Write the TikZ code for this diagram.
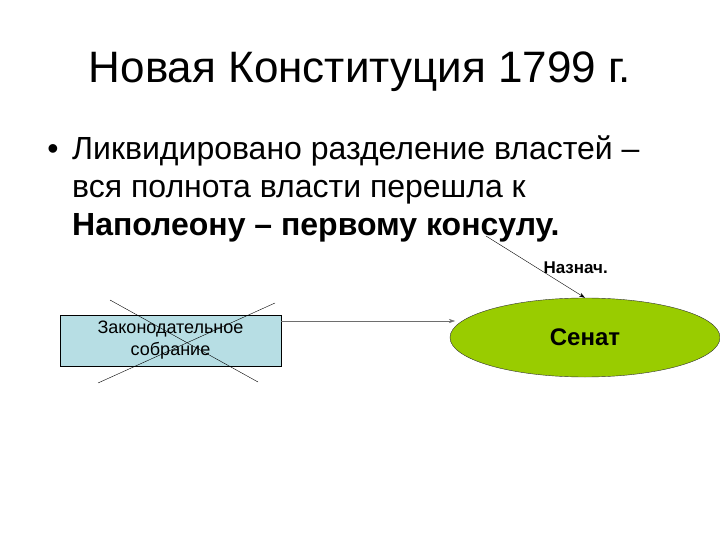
\documentclass[tikz,border=0pt]{standalone}
\usepackage{fontspec}
\setmainfont{Liberation Sans}
\usetikzlibrary{arrows.meta,shapes.geometric,positioning}
\definecolor{boxblue}{RGB}{183,222,228}
\definecolor{senatgreen}{RGB}{153,204,0}
\definecolor{linegray}{RGB}{110,110,110}

\begin{document}
\begin{tikzpicture}[x=1pt,y=-1pt,
    organ/.style={draw=black,thin,fill=boxblue,minimum width=221pt,minimum height=51pt,
      inner sep=0pt,align=center,font=\fontsize{18}{22}\selectfont},
    senat/.style={ellipse,draw=black!80,thin,fill=senatgreen,minimum width=270pt,
      minimum height=79pt,inner sep=0pt,font=\bfseries\fontsize{24}{28}\selectfont},
    arr/.style={-{Stealth[length=6pt,width=4pt]},thin}]
  \useasboundingbox (0,0) rectangle (720,540);
  % heading and text
  \node[font=\fontsize{44}{50}\selectfont,anchor=base] (title) at (360,83) {Новая Конституция 1799 г.};
  \node[font=\fontsize{32}{38}\selectfont,anchor=base] (bul) at (53,160) {•};
  \node[font=\fontsize{32}{38}\selectfont,anchor=base west,align=left,inner sep=0pt] (txt) at (72,236)
    {Ликвидировано разделение властей –\\вся полнота власти перешла к\\\textbf{Наполеону – первому консулу.}};
  % organs
  \node[organ] (zak) at (170.5,340.5) {Законодательное\\собрание};
  \node[senat] (sen) at (585,337.5) {Сенат};
  \draw[thin] (110,300) -- (258,382);
  \draw[thin] (275,303) -- (98,383);
  % links
  \coordinate (zakout) at (281,321);
  \coordinate (senin) at (455,321);
  \draw[arr,draw=linegray] (zakout) -- (senin);
  \coordinate (nap) at (486,236);
  \draw[arr] (nap) -- (sen.north);
  \node[font=\bfseries\fontsize{17}{20}\selectfont,anchor=base west] (naz) at (540,273) {Назнач.};
\end{tikzpicture}
\end{document}
